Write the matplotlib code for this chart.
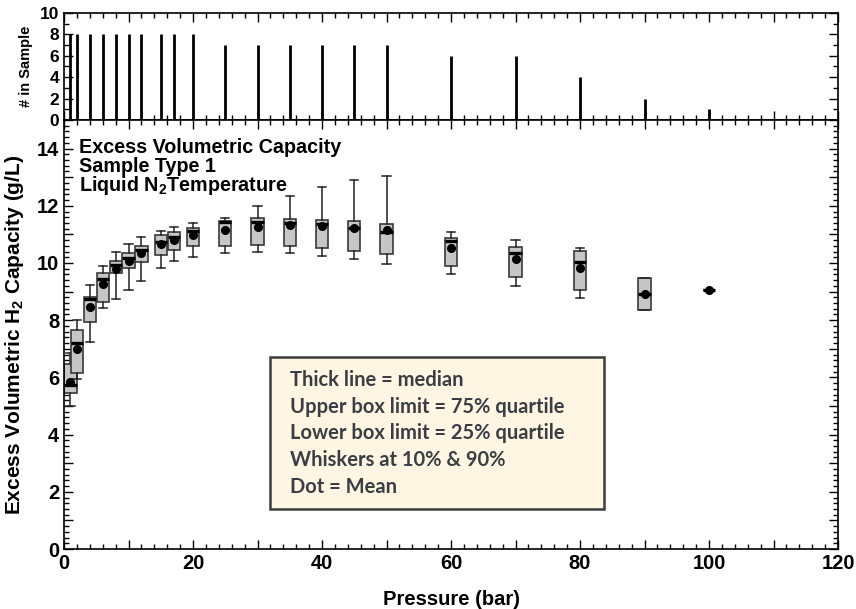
import matplotlib
matplotlib.use("Agg")
import matplotlib.pyplot as plt
from matplotlib.ticker import MultipleLocator, FuncFormatter
from matplotlib.patches import Rectangle

plt.rcParams['font.family'] = ['Liberation Sans', 'DejaVu Sans']
plt.rcParams['font.weight'] = 'bold'
plt.rcParams['mathtext.fontset'] = 'custom'
plt.rcParams['mathtext.rm'] = 'Liberation Sans:bold'
plt.rcParams['mathtext.bf'] = 'Liberation Sans:bold'
plt.rcParams['mathtext.default'] = 'rm'

# pressures (bar) and number of samples measured at each
pressure = [1, 2, 4, 6, 8, 10, 12, 15, 17, 20, 25, 30, 35, 40, 45, 50, 60, 70, 80, 90, 100]
n_sample = [8, 8, 8, 8, 8, 8, 8, 8, 8, 8, 7, 7, 7, 7, 7, 7, 6, 6, 4, 2, 1]

# excess volumetric capacity statistics (g/L)
p10 = [5.00, 5.94, 7.25, 8.43, 8.74, 9.06, 9.36, 9.81, 10.07, 10.20,
       10.35, 10.38, 10.34, 10.24, 10.13, 9.97, 9.60, 9.20, 8.77, 8.35, 9.06]
q1 = [5.44, 6.14, 7.93, 8.63, 9.64, 9.84, 10.05, 10.28, 10.45, 10.59,
      10.58, 10.63, 10.58, 10.52, 10.42, 10.30, 9.90, 9.51, 9.06, 8.35, 9.06]
median = [5.73, 7.21, 8.75, 9.44, 9.93, 10.19, 10.45, 10.75, 10.90, 11.12,
          11.42, 11.42, 11.41, 11.35, 11.23, 11.10, 10.78, 10.36, 10.02, 8.92, 9.06]
q3 = [6.47, 7.66, 8.80, 9.66, 10.08, 10.34, 10.61, 10.97, 11.08, 11.23,
      11.48, 11.56, 11.55, 11.51, 11.48, 11.36, 10.86, 10.56, 10.43, 9.46, 9.06]
p90 = [6.84, 8.01, 9.23, 9.91, 10.37, 10.66, 10.90, 11.13, 11.27, 11.41,
       11.58, 11.98, 12.35, 12.65, 12.91, 13.03, 11.07, 10.82, 10.51, 9.46, 9.06]
mean = [5.85, 6.99, 8.45, 9.27, 9.79, 10.07, 10.34, 10.66, 10.80, 10.98,
        11.17, 11.27, 11.32, 11.28, 11.23, 11.14, 10.51, 10.14, 9.84, 8.92, 9.06]

notes = ["Excess Volumetric Capacity", "Sample Type 1", "Liquid N$_2$Temperature"]
key_lines = ["Thick line = median",
             "Upper box limit = 75% quartile",
             "Lower box limit = 25% quartile",
             "Whiskers at 10% & 90%",
             "Dot = Mean"]

fig = plt.figure(figsize=(8.56, 6.09), dpi=100)
ax_n = fig.add_axes([0.0748, 0.803, 0.9042, 0.1757])
ax = fig.add_axes([0.0748, 0.0985, 0.9042, 0.7045])


def style_axis(a):
    a.tick_params(which='both', direction='in', top=True, right=True,
                  labelsize=14.5, width=1.0, colors='black')
    a.tick_params(which='major', length=6.5)
    a.tick_params(which='minor', length=3.5)
    for s in a.spines.values():
        s.set_linewidth(1.2)
    a.xaxis.set_major_locator(MultipleLocator(10))
    a.xaxis.set_minor_locator(MultipleLocator(2))


even_only = FuncFormatter(lambda v, pos: f"{v:.0f}" if round(v) % 2 == 0 else "")
every_20 = FuncFormatter(lambda v, pos: f"{v:.0f}" if round(v) % 20 == 0 else "")

# sample count panel
ax_n.vlines(pressure, 0, n_sample, colors='black', linewidth=2.0)
ax_n.set_xlim(0, 120)
ax_n.set_ylim(0, 10)
style_axis(ax_n)
ax_n.yaxis.set_major_locator(MultipleLocator(2))
ax_n.yaxis.set_minor_locator(MultipleLocator(1))
ax_n.tick_params(axis='y', labelsize=12.5)
ax_n.tick_params(axis='x', labelbottom=False)
ax_n.set_ylabel("# in Sample", fontsize=10.5, fontweight='bold', labelpad=5)

# box plot of capacity
stats = []
for m, a, b, lo, hi, mu in zip(median, q1, q3, p10, p90, mean):
    stats.append(dict(med=m, q1=a, q3=b, whislo=lo, whishi=hi, mean=mu, fliers=[]))

ax.bxp(stats, positions=pressure, widths=1.9, capwidths=1.25,
       showmeans=True, patch_artist=True, manage_ticks=False,
       boxprops=dict(facecolor='#c6c6c6', edgecolor='#3a3a3a', linewidth=1.2),
       medianprops=dict(color='black', linewidth=2.4),
       whiskerprops=dict(color='#222222', linewidth=1.1),
       capprops=dict(color='#222222', linewidth=1.1),
       meanprops=dict(marker='o', markerfacecolor='black',
                      markeredgecolor='black', markersize=5.5))

ax.set_xlim(0, 120)
ax.set_ylim(0, 15)
style_axis(ax)
ax.xaxis.set_major_formatter(every_20)
ax.yaxis.set_major_locator(MultipleLocator(1))
ax.yaxis.set_minor_locator(MultipleLocator(0.2))
ax.yaxis.set_major_formatter(even_only)
ax.set_xlabel("Pressure (bar)", fontsize=14.5, fontweight='bold', labelpad=12)
ax.set_ylabel("Excess Volumetric H$_2$ Capacity (g/L)", fontsize=15,
              fontweight='bold', labelpad=8)

for i, t in enumerate(notes):
    ax.text(0.019, 0.937 - i * 0.045, t, transform=ax.transAxes,
            fontsize=14.2, fontweight='bold', va='center', ha='left')

# key box
ax.add_patch(Rectangle((0.266, 0.093), 0.432, 0.355, transform=ax.transAxes,
                       facecolor='#fff5e3', edgecolor='#3c3c3c',
                       linewidth=1.8, zorder=5))
for i, t in enumerate(key_lines):
    ax.text(0.292, 0.394 - i * 0.0623, t, transform=ax.transAxes,
            fontsize=14.5, fontweight='bold', family=['Lato', 'DejaVu Sans'],
            color='#3a3e44', va='center', ha='left', zorder=6)

fig.savefig("out.png", dpi=100)
